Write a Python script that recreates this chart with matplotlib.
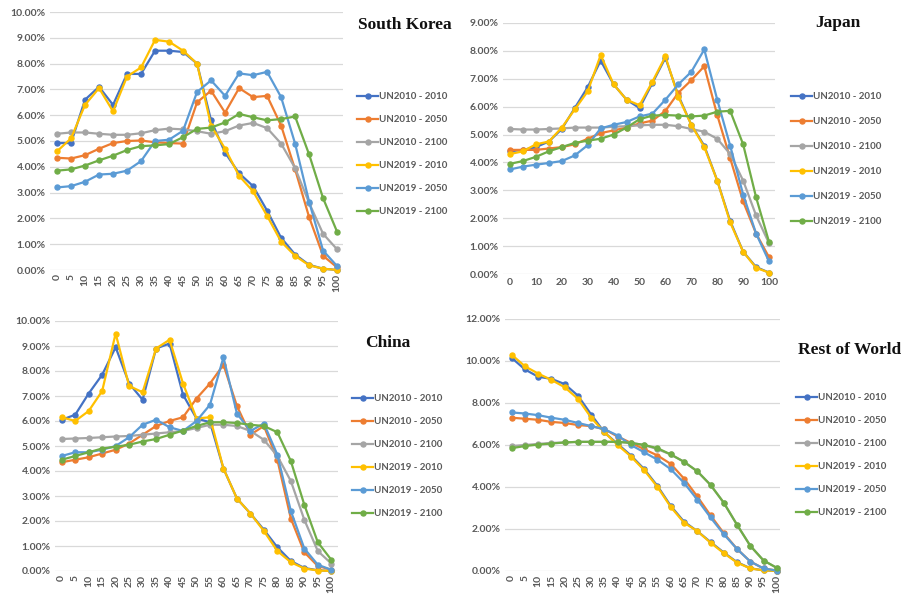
import numpy as np
import matplotlib
matplotlib.use("Agg")
import matplotlib.pyplot as plt  # noqa: E402
from matplotlib import font_manager  # noqa: E402

# age groups on the x axis (share of population, %)
AGES = list(range(0, 101, 5))
SERIES = ["UN2010 - 2010", "UN2010 - 2050", "UN2010 - 2100",
          "UN2019 - 2010", "UN2019 - 2050", "UN2019 - 2100"]
COLORS = ["#4472C4", "#ED7D31", "#A5A5A5", "#FFC000", "#5B9BD5", "#70AD47"]

# South Korea
KOR_UN10_2010 = [4.92, 4.92, 6.6, 7.1, 6.4, 7.6, 7.6, 8.5, 8.5, 8.45, 8.0, 5.8, 4.55,
                 3.75, 3.25, 2.3, 1.25, 0.6, 0.2, 0.05, 0.0]
KOR_UN10_2050 = [4.35, 4.32, 4.45, 4.7, 4.92, 5.0, 5.02, 4.95, 4.92, 4.9, 6.5, 6.95, 6.1,
                 7.05, 6.7, 6.75, 5.6, 3.9, 2.05, 0.55, 0.1]
KOR_UN10_2100 = [5.28, 5.33, 5.33, 5.28, 5.24, 5.24, 5.3, 5.42, 5.48, 5.45, 5.38, 5.28, 5.38,
                 5.6, 5.7, 5.5, 4.9, 3.95, 2.6, 1.4, 0.8]
KOR_UN19_2010 = [4.6, 5.1, 6.4, 7.05, 6.15, 7.5, 7.85, 8.92, 8.85, 8.5, 8.0, 5.6, 4.7,
                 3.65, 3.05, 2.1, 1.1, 0.55, 0.18, 0.05, 0.0]
KOR_UN19_2050 = [3.2, 3.25, 3.42, 3.7, 3.73, 3.85, 4.22, 5.0, 5.05, 5.4, 6.9, 7.35, 6.75,
                 7.62, 7.55, 7.68, 6.7, 4.9, 2.65, 0.75, 0.15]
KOR_UN19_2100 = [3.85, 3.9, 4.05, 4.25, 4.43, 4.65, 4.8, 4.83, 4.88, 5.15, 5.47, 5.52, 5.72,
                 6.05, 5.92, 5.8, 5.85, 5.95, 4.48, 2.78, 1.48]

# Japan
JPN_UN10_2010 = [4.4, 4.45, 4.55, 4.75, 5.2, 5.95, 6.7, 7.65, 6.8, 6.25, 5.95, 6.85, 7.75,
                 6.4, 5.35, 4.6, 3.35, 1.9, 0.8, 0.25, 0.05]
JPN_UN10_2050 = [4.45, 4.45, 4.45, 4.5, 4.55, 4.65, 4.85, 5.05, 5.15, 5.25, 5.4, 5.5, 5.85,
                 6.5, 6.95, 7.45, 5.7, 4.15, 2.6, 1.45, 0.6]
JPN_UN10_2100 = [5.2, 5.18, 5.18, 5.2, 5.22, 5.25, 5.25, 5.25, 5.28, 5.3, 5.33, 5.35, 5.35,
                 5.3, 5.2, 5.1, 4.85, 4.3, 3.35, 2.1, 1.1]
JPN_UN19_2010 = [4.3, 4.4, 4.65, 4.75, 5.25, 5.9, 6.55, 7.85, 6.8, 6.25, 6.05, 6.9, 7.8,
                 6.35, 5.35, 4.55, 3.35, 1.85, 0.8, 0.22, 0.05]
JPN_UN19_2050 = [3.75, 3.85, 3.92, 3.98, 4.05, 4.25, 4.62, 5.22, 5.35, 5.45, 5.65, 5.75, 6.25,
                 6.8, 7.25, 8.05, 6.25, 4.6, 2.85, 1.45, 0.45]
JPN_UN19_2100 = [3.95, 4.05, 4.2, 4.4, 4.55, 4.7, 4.78, 4.85, 5.0, 5.25, 5.55, 5.68, 5.7,
                 5.68, 5.65, 5.68, 5.82, 5.85, 4.65, 2.75, 1.15]

# China
CHN_UN10_2010 = [6.05, 6.25, 7.1, 7.85, 8.95, 7.5, 6.85, 8.9, 9.1, 7.05, 6.1, 5.95, 4.1,
                 2.9, 2.3, 1.65, 0.95, 0.4, 0.12, 0.03, 0.0]
CHN_UN10_2050 = [4.35, 4.45, 4.55, 4.7, 4.85, 5.1, 5.45, 5.8, 6.0, 6.15, 6.9, 7.5, 8.25,
                 6.6, 5.45, 5.8, 4.45, 2.1, 0.75, 0.2, 0.05]
CHN_UN10_2100 = [5.28, 5.3, 5.32, 5.35, 5.38, 5.4, 5.45, 5.5, 5.55, 5.6, 5.72, 5.85, 5.85,
                 5.8, 5.6, 5.25, 4.6, 3.6, 2.05, 0.8, 0.3]
CHN_UN19_2010 = [6.15, 6.0, 6.4, 7.2, 9.5, 7.4, 7.15, 8.9, 9.25, 7.5, 6.1, 6.15, 4.1,
                 2.9, 2.3, 1.6, 0.8, 0.35, 0.1, 0.02, 0.0]
CHN_UN19_2050 = [4.6, 4.75, 4.75, 4.85, 5.0, 5.35, 5.85, 6.05, 5.75, 5.6, 6.0, 6.65, 8.55,
                 6.3, 5.6, 5.9, 4.65, 2.4, 0.9, 0.25, 0.05]
CHN_UN19_2100 = [4.45, 4.6, 4.75, 4.9, 4.97, 5.05, 5.18, 5.28, 5.45, 5.62, 5.8, 5.95, 5.95,
                 5.92, 5.85, 5.8, 5.55, 4.4, 2.65, 1.15, 0.45]

# Rest of World
ROW_UN10_2010 = [10.15, 9.6, 9.25, 9.15, 8.9, 8.35, 7.45, 6.6, 6.05, 5.5, 4.85, 4.05, 3.1,
                 2.35, 1.9, 1.38, 0.88, 0.42, 0.13, 0.03, 0.0]
ROW_UN10_2050 = [7.3, 7.25, 7.2, 7.1, 7.05, 6.95, 6.9, 6.75, 6.4, 6.1, 5.8, 5.5, 5.1,
                 4.4, 3.55, 2.65, 1.8, 1.05, 0.45, 0.12, 0.02]
ROW_UN10_2100 = [5.95, 6.0, 6.05, 6.1, 6.12, 6.15, 6.15, 6.15, 6.15, 6.1, 6.0, 5.8, 5.55,
                 5.2, 4.75, 4.1, 3.25, 2.2, 1.2, 0.5, 0.15]
ROW_UN19_2010 = [10.3, 9.75, 9.4, 9.1, 8.75, 8.2, 7.3, 6.6, 6.0, 5.45, 4.8, 4.0, 3.05,
                 2.3, 1.9, 1.35, 0.85, 0.4, 0.12, 0.03, 0.0]
ROW_UN19_2050 = [7.55, 7.5, 7.42, 7.3, 7.2, 7.05, 6.9, 6.75, 6.45, 6.0, 5.65, 5.3, 4.85,
                 4.2, 3.4, 2.55, 1.75, 1.05, 0.45, 0.12, 0.02]
ROW_UN19_2100 = [5.85, 5.95, 6.02, 6.07, 6.12, 6.15, 6.15, 6.15, 6.15, 6.1, 6.0, 5.85, 5.55,
                 5.2, 4.75, 4.1, 3.25, 2.2, 1.2, 0.5, 0.15]

W, H = 903, 600
GRID = "#D9D9D9"
TXT = "#595959"

# a narrow sans for the Excel-like labels, if one is around
_have = {f.name for f in font_manager.fontManager.ttflist}
SANS = next((f for f in ["Liberation Sans Narrow", "Lato", "DejaVu Sans"] if f in _have),
            "DejaVu Sans")


def rect(left, top, right, bottom):
    return [left / W, 1 - bottom / H, (right - left) / W, (bottom - top) / H]


def panel(fig, box, xlim, ymax, ystep, data, title, title_xy, leg_xy,
          rotate=True, spacing=1.45):
    ax = fig.add_axes(rect(*box))
    for vals, lab, c in zip(data, SERIES, COLORS):
        ax.plot(AGES, vals, color=c, lw=1.6, marker="o", ms=3.6,
                label=lab, clip_on=False, zorder=3)
    ax.set_xlim(*xlim)
    ax.set_ylim(0, ymax)
    yt = np.arange(0, ymax + 0.01, ystep)
    ax.set_yticks(yt)
    ax.set_yticklabels([f"{v:.2f}%" for v in yt])
    if rotate:
        ax.set_xticks(AGES)
        ax.set_xticklabels([str(a) for a in AGES], rotation=90)
    else:
        ax.set_xticks(AGES[::2])
    ax.tick_params(length=0, labelsize=7.5, labelcolor=TXT, pad=3)
    for t in ax.get_xticklabels() + ax.get_yticklabels():
        t.set_family(SANS)
        t.set_fontweight("bold")
    ax.grid(axis="y", color=GRID, lw=0.9)
    ax.set_axisbelow(True)
    for s in ax.spines.values():
        s.set_visible(False)
    fig.text(title_xy[0] / W, 1 - title_xy[1] / H, title, ha="center",
             va="center", fontsize=12.5, fontweight="bold",
             family="Liberation Serif", color="#111111")
    ax.legend(loc="upper left", bbox_to_anchor=(leg_xy[0] / W, 1 - leg_xy[1] / H),
              bbox_transform=fig.transFigure, frameon=False,
              prop={"family": SANS, "size": 7, "weight": "bold"},
              labelcolor=TXT, handlelength=2.2, handletextpad=0.1,
              labelspacing=spacing, borderaxespad=0, borderpad=0)
    return ax


fig = plt.figure(figsize=(W / 100, H / 100), dpi=100, facecolor="white")

panel(fig, (50, 12, 343, 270), (-2.5, 102.1), 10, 1,
      [KOR_UN10_2010, KOR_UN10_2050, KOR_UN10_2100,
       KOR_UN19_2010, KOR_UN19_2050, KOR_UN19_2100],
      "South Korea", (405, 25), (357, 92))
panel(fig, (503, 23, 775, 274), (-2.7, 102.3), 9, 1,
      [JPN_UN10_2010, JPN_UN10_2050, JPN_UN10_2100,
       JPN_UN19_2010, JPN_UN19_2050, JPN_UN19_2100],
      "Japan", (838, 23), (791, 92), rotate=False, spacing=1.65)
panel(fig, (55, 321, 338, 571), (-2.5, 102.5), 10, 1,
      [CHN_UN10_2010, CHN_UN10_2050, CHN_UN10_2100,
       CHN_UN19_2010, CHN_UN19_2050, CHN_UN19_2100],
      "China", (388, 343), (352, 394))
panel(fig, (505, 319, 780, 571), (-2.5, 101.2), 12, 2,
      [ROW_UN10_2010, ROW_UN10_2050, ROW_UN10_2100,
       ROW_UN19_2010, ROW_UN19_2050, ROW_UN19_2100],
      "Rest of World", (850, 350), (796, 393))

fig.savefig("out.png", dpi=100)
plt.close(fig)
